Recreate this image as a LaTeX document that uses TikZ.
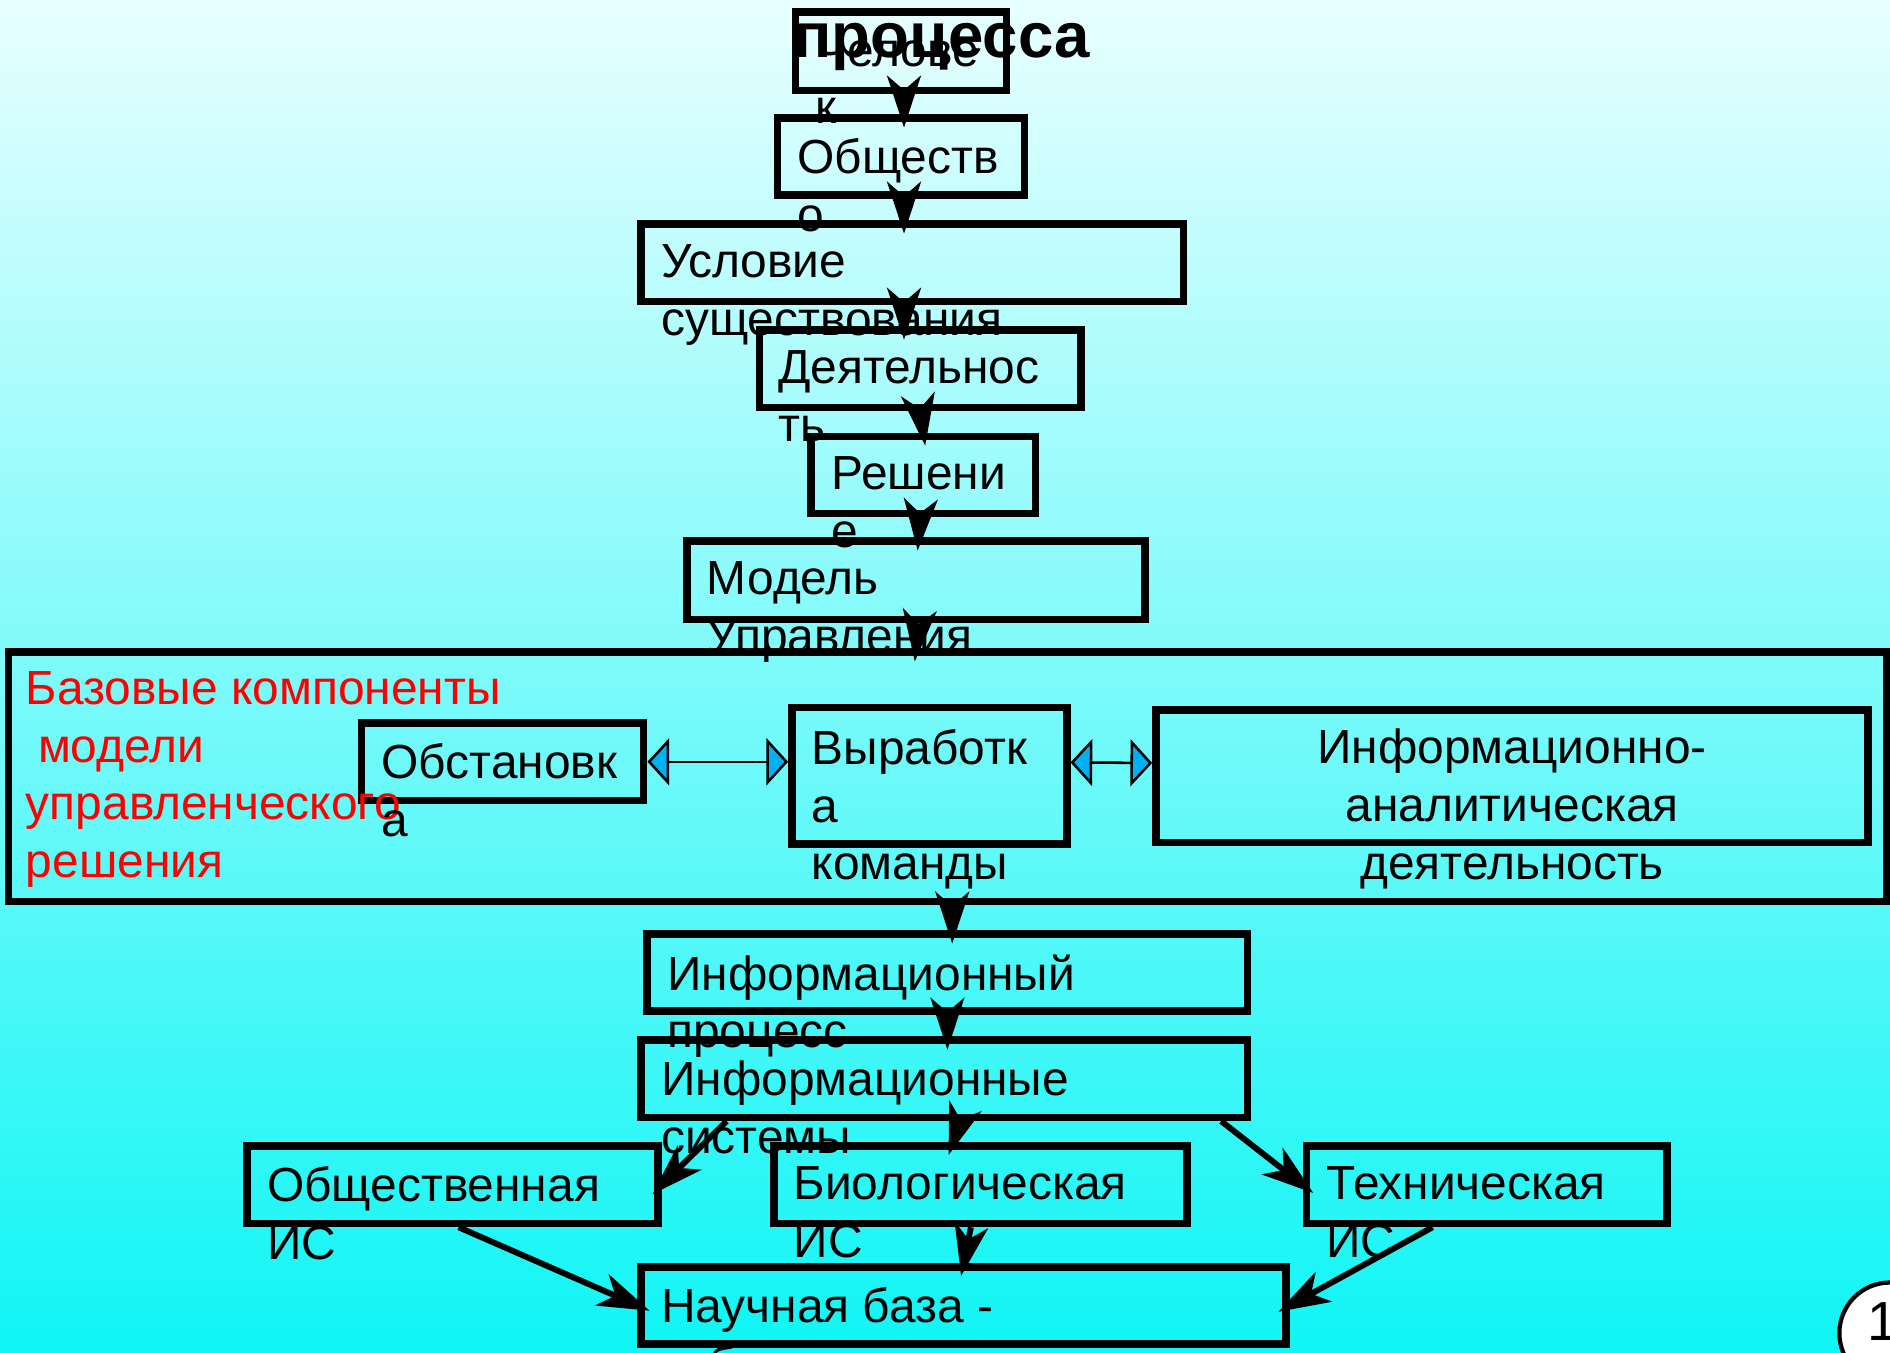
\documentclass[tikz,border=0pt]{standalone}
\usepackage{fontspec}
\setmainfont{Liberation Sans}
\usetikzlibrary{arrows.meta}
\definecolor{bgtop}{RGB}{232,255,255}
\definecolor{bgbottom}{RGB}{16,245,245}
\definecolor{headblue}{RGB}{0,176,240}
\newcommand{\boxfont}{\fontsize{11.3}{13.6}\selectfont}

\begin{document}
\begin{tikzpicture}[x=0.1mm,y=-0.1mm,
  box/.style={draw,line width=1.8pt,inner sep=0pt,minimum height=6.4mm},
  txt/.style={anchor=north west,inner sep=0pt,align=left,font=\boxfont,execute at begin node=\strut},
  arr/.style={line width=1.4pt,-{Stealth[length=4.3mm,width=2.8mm,inset=1.2mm]},shorten >=-1.1mm},
  twoway/.style={line width=0.6pt,{Triangle[length=1.8mm,width=3.9mm,fill=headblue]}-{Triangle[length=1.8mm,width=3.9mm,fill=headblue]}}]
\useasboundingbox (0,0) rectangle (1568,1122);
\fill[top color=bgtop,bottom color=bgbottom] (0,0) rectangle (1568,1122);

\node[box,minimum width=17.5mm,minimum height=6.5mm] (chel) at (747.5,42.5) {};
\node[box,minimum width=20.5mm] (obsh) at (747.5,130) {};
\node[box,minimum width=45mm] (usl) at (757,218) {};
\node[box,minimum width=26.7mm] (deyat) at (763.5,306) {};
\node[box,minimum width=18.6mm] (resh) at (766,394) {};
\node[box,minimum width=38mm,minimum height=6.5mm] (model) at (760,481.5) {};
\node[box,minimum width=155.8mm,minimum height=20.7mm] (big) at (786,644.5) {};
\node[box,minimum width=23.4mm] (obst) at (417,632) {};
\node[box,minimum width=22.8mm,minimum height=11.3mm] (vyrab) at (771,643.5) {};
\node[box,minimum width=59.1mm,minimum height=11mm] (infan) at (1254.5,644) {};
\node[box,minimum width=49.8mm] (infproc) at (786,807) {};
\node[box,minimum width=50.3mm] (infsys) at (783.5,895) {};
\node[box,minimum width=34.1mm] (socis) at (375.5,983) {};
\node[box,minimum width=34.3mm] (bio) at (813.5,983) {};
\node[box,minimum width=29.9mm] (tech) at (1233.5,983) {};
\node[box,minimum width=53.5mm] (nauch) at (799.5,1083) {};

\node[txt] (t-chel) at ([xshift=1.9mm,yshift=-2mm]chel.north west) {Челове\\к};
\node[txt] (t-obsh) at ([xshift=1.9mm,yshift=-1.95mm]obsh.north west) {Обществ\\о};
\node[txt] (t-usl) at ([xshift=1.9mm,yshift=-1.95mm]usl.north west) {Условие\\существования};
\node[txt] (t-deyat) at ([xshift=1.8mm,yshift=-1.95mm]deyat.north west) {Деятельнос\\ть};
\node[txt] (t-resh) at ([xshift=1.9mm,yshift=-1.95mm]resh.north west) {Решени\\е};
\node[txt] (t-model) at ([xshift=1.9mm,yshift=-1.95mm]model.north west) {Модель\\Управления};
\node[txt,text=red] (t-base) at ([xshift=1.7mm,yshift=-1.86mm]big.north west) {Базовые компоненты\\\hspace*{1mm}модели\\управленческого\\решения};
\node[txt] (t-obst) at ([xshift=1.9mm,yshift=-1.95mm]obst.north west) {Обстановк\\а};
\node[txt] (t-vyrab) at ([xshift=1.9mm,yshift=-2.05mm]vyrab.north west) {Выработк\\а\\команды};
\node[txt,anchor=north,align=center] (t-infan) at ([yshift=-1.85mm]infan.north) {Информационно-\\аналитическая\\деятельность};
\node[txt] (t-infproc) at ([xshift=1.9mm,yshift=-1.95mm]infproc.north west) {Информационный\\процесс};
\node[txt] (t-infsys) at ([xshift=1.9mm,yshift=-1.95mm]infsys.north west) {Информационные\\системы};
\node[txt] (t-socis) at ([xshift=1.9mm,yshift=-1.95mm]socis.north west) {Общественная\\ИС};
\node[txt] (t-bio) at ([xshift=1.9mm,yshift=-1.95mm]bio.north west) {Биологическая\\ИС};
\node[txt] (t-tech) at ([xshift=1.9mm,yshift=-1.95mm]tech.north west) {Техническая\\ИС};
\node[txt] (t-nauch) at ([xshift=1.9mm,yshift=-1.95mm]nauch.north west) {Научная база -\\кибернетика};

\draw[arr] ([xshift=.25mm]chel.south) -- ([xshift=.25mm]obsh.north);
\draw[arr] ([xshift=.25mm]obsh.south) -- ([xshift=-.7mm]usl.north);
\draw[arr] ([xshift=-.7mm]usl.south) -- ([xshift=-1.35mm]deyat.north);
\draw[arr] (deyat.south) -- (resh.north);
\draw[arr] ([xshift=-.3mm]resh.south) -- ([xshift=.2mm]model.north);
\draw[arr] ([xshift=.2mm]model.south) -- (model.south |- big.north);
\draw[arr] ([xshift=.4mm]big.south) -- ([xshift=.4mm]infproc.north);
\draw[arr] (infproc.south) -- (infproc.south |- infsys.north);
\draw[arr] ([xshift=1.3mm]infsys.south) -- ([xshift=-2.3mm]bio.north);
\draw[arr] ([xshift=7.4mm]infsys.south west) -- (socis.east);
\draw[arr] ([xshift=-2.5mm]infsys.south east) -- (tech.west);
\draw[arr] ([xshift=-.8mm]bio.south) -- (nauch.north);
\draw[arr] ([xshift=.5mm]socis.south) -- (nauch.west);
\draw[arr] ([xshift=-4.5mm]tech.south) -- (nauch.east);

\draw[twoway] (obst.east) -- (vyrab.west |- obst.east);
\draw[twoway] ([yshift=1.1mm]vyrab.east) -- ([yshift=1.1mm]infan.west);

\node[font=\fontsize{15}{18}\selectfont\bfseries,anchor=base,inner sep=0pt] (title) at (781,48) {процесса};
\node[circle,draw,fill=white,line width=1pt,minimum size=8.4mm] (num) at (1568,1106) {};
\node[anchor=base west,inner sep=0pt,font=\fontsize{13}{15}\selectfont] (t-num) at (1549,1112) {1};
\end{tikzpicture}
\end{document}
